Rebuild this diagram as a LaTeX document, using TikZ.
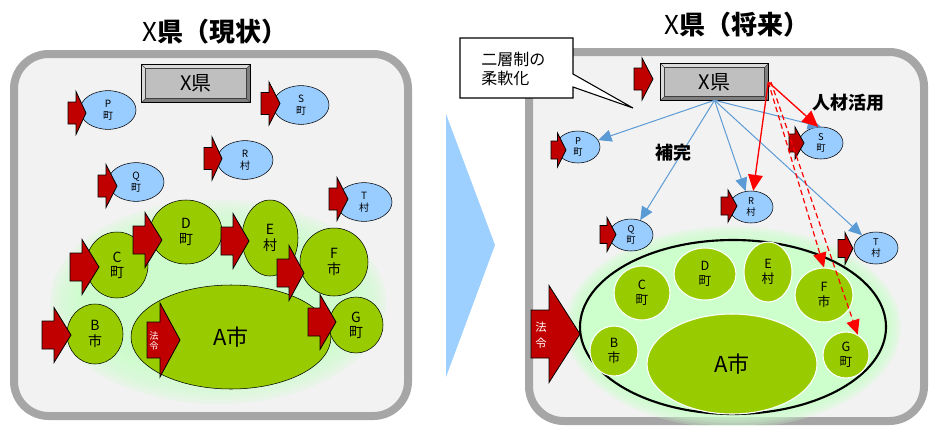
\documentclass[tikz,border=0pt]{standalone}
\usepackage{fontspec}
\setmainfont{Noto Sans CJK JP}
\usetikzlibrary{shapes.geometric,arrows.meta}

\definecolor{panelfill}{HTML}{F2F2F2}
\definecolor{panelline}{HTML}{A6A6A6}
\definecolor{townblue}{HTML}{99CCFF}
\definecolor{citygreen}{HTML}{99CC00}
\definecolor{glowgreen}{HTML}{CCFFCC}
\definecolor{lawred}{HTML}{C00000}
\definecolor{linkblue}{HTML}{5B9BD5}
\definecolor{boxgray}{HTML}{BFBFBF}
\definecolor{bevlight}{HTML}{DADADA}
\definecolor{bevdark}{HTML}{7F7F7F}
\definecolor{bigblue}{HTML}{9DCFFF}

\tikzset{
  panel/.style={draw=panelline, fill=panelfill, line width=6pt, rounded corners=26pt},
  title/.style={font=\fontsize{19.5}{22}\selectfont},
  prefbox/.style={rectangle, fill=boxgray, inner sep=0pt, font=\fontsize{15}{17}\selectfont},
  ltown/.style={ellipse, draw, fill=townblue, inner sep=0pt, align=center,
    minimum width=42pt, minimum height=29pt, font=\fontsize{7.5}{9}\selectfont},
  rtown/.style={ellipse, draw, fill=townblue, inner sep=0pt, align=center,
    minimum width=33pt, minimum height=24pt, font=\fontsize{7}{8.3}\selectfont},
  lcity/.style={ellipse, draw, fill=citygreen, inner sep=0pt, align=center,
    font=\fontsize{10.5}{11.5}\selectfont},
  rcity/.style={ellipse, draw=white, line width=0.8pt, fill=citygreen, inner sep=0pt,
    align=center, font=\fontsize{9.5}{11}\selectfont},
  bigcity/.style={font=\fontsize{16.5}{18}\selectfont},
  lawtext/.style={text=white, align=center, inner sep=0pt},
  support/.style={draw=linkblue, line width=0.75pt, -{Triangle[length=10pt,width=9pt]}},
  staff/.style={draw=red, line width=1pt, -{Triangle[length=12pt,width=11pt]}},
  staffdash/.style={draw=red, line width=0.9pt, dash pattern=on 4pt off 2.5pt,
    -{Triangle[length=11pt,width=10pt]}},
  keyword/.style={font=\bfseries\fontsize{13.5}{15}\selectfont}
}

% block arrow: left x, middle y, neck x, tip x, half body, half head
\newcommand{\lawarrow}[6]{%
  \draw[fill=lawred, line width=0.6pt] (#1,#2-#5) -- (#3,#2-#5) -- (#3,#2-#6) -- (#4,#2)
    -- (#3,#2+#6) -- (#3,#2+#5) -- (#1,#2+#5) -- cycle;}

% bevel round a prefecture box
\newcommand{\bevel}[1]{%
  \fill[bevlight] (#1.south west) -- (#1.north west) -- (#1.north east)
    -- ([shift={(-3pt,-3pt)}]#1.north east) -- ([shift={(3pt,-3pt)}]#1.north west)
    -- ([shift={(3pt,3pt)}]#1.south west) -- cycle;
  \fill[bevdark] (#1.south west) -- (#1.south east) -- (#1.north east)
    -- ([shift={(-3pt,-3pt)}]#1.north east) -- ([shift={(-3pt,3pt)}]#1.south east)
    -- ([shift={(3pt,3pt)}]#1.south west) -- cycle;
  \draw[line width=0.4pt, black!70] (#1.south west) -- ++(3pt,3pt) (#1.north west) -- ++(3pt,-3pt)
    (#1.north east) -- ++(-3pt,-3pt) (#1.south east) -- ++(-3pt,3pt);
  \draw[line width=0.5pt, black!75] ([shift={(3pt,3pt)}]#1.south west) rectangle ([shift={(-3pt,-3pt)}]#1.north east);
  \draw[line width=1pt] (#1.south west) rectangle (#1.north east);}

\begin{document}
\begin{tikzpicture}[x=0.75pt, y=-0.75pt]
\useasboundingbox (0,0) rectangle (948,425);

% panels
\draw[panel] (14,54) rectangle (408,416);
\draw[panel] (529,52) rectangle (924,421);
\fill[bigblue] (446,114) -- (495,245) -- (446,377) -- cycle;

\node[title] (lTitle) at (215,32) {X\textbf{県（現状）}};
\node[title] (rTitle) at (737,25) {X\textbf{県（将来）}};

% callout
\draw[fill=white, line width=0.8pt] (460,38) -- (573,38) -- (573,74) -- (633,108) -- (573,87)
  -- (573,98) -- (460,98) -- cycle;
\node[anchor=west, align=left, font=\fontsize{12}{14.5}\selectfont, inner sep=0pt] (note) at (481,69) {二層制の\\柔軟化};

% glow, present
\foreach \i [evaluate=\i as \gx using 0.75*(168-4*\i), evaluate=\i as \gy using 0.75*(102-4*\i)] in {0,...,9}
  {\fill[glowgreen, opacity=0.22] (218,302) ellipse [x radius=\gx pt, y radius=\gy pt];}

% present
\node[prefbox, minimum width=81pt, minimum height=27.75pt] (lX) at (196,83.5) {X県};
\bevel{lX}
\node[ltown] (lP) at (108,110) {P\\町};
\node[ltown] (lS) at (301,105) {S\\町};
\node[ltown] (lR) at (245,160) {R\\村};
\node[ltown] (lQ) at (136,182) {Q\\町};
\node[ltown] (lT) at (364,202) {T\\村};
\node[lcity, minimum width=54pt, minimum height=48pt] (lD) at (186,232) {D\\町};
\node[lcity, minimum width=46.5pt, minimum height=49.5pt] (lC) at (117,265) {C\\町};
\node[lcity, minimum width=42pt, minimum height=57pt] (lE) at (270,238) {E\\村};
\node[lcity, minimum width=51pt, minimum height=51pt] (lF) at (334,262) {F\\市};
\node[lcity, minimum width=42pt, minimum height=45pt] (lB) at (95,334) {B\\市};
\node[lcity, bigcity, minimum width=150pt, minimum height=78pt] (lA) at (231,337) {A市};
\node[lcity, minimum width=40.5pt, minimum height=42pt] (lG) at (356,325) {G\\町};

\lawarrow{68}{113}{76}{86}{11}{21.5}
\lawarrow{261}{103.5}{269}{280}{11}{21.5}
\lawarrow{204}{158.5}{212}{222}{11}{21.5}
\lawarrow{98}{186}{106}{117}{11}{21.5}
\lawarrow{329}{199}{337}{348}{11}{21.5}
\lawarrow{70}{267}{82}{99}{14}{27.5}
\lawarrow{133}{240}{145}{162}{14}{27.5}
\lawarrow{221}{241}{233}{249}{14}{27.5}
\lawarrow{277}{273}{289}{304}{14}{27.5}
\lawarrow{308}{322}{320}{336}{14}{27.5}
\lawarrow{42}{335}{54}{71}{14}{27.5}
\lawarrow{147}{340}{160}{180}{18}{37}
\node[lawtext, font=\fontsize{7}{8}\selectfont] (lLaw) at (154,341) {法\\令};

% glow, future
\foreach \i [evaluate=\i as \gx using 0.75*(168-2.5*\i), evaluate=\i as \gy using 0.75*(101-2.5*\i)] in {0,...,5}
  {\fill[glowgreen, opacity=0.25] (733,327) ellipse [x radius=\gx pt, y radius=\gy pt];}

% future
\node[ellipse, draw, line width=1.6pt, fill=glowgreen, minimum width=229.5pt, minimum height=130.5pt] (rRing) at (733,327) {};
\node[rcity, minimum width=42pt, minimum height=40.5pt] (rC) at (642,293) {C\\町};
\node[rcity, minimum width=46.5pt, minimum height=39pt] (rD) at (705,274) {D\\町};
\node[rcity, minimum width=36pt, minimum height=45pt] (rE) at (768,272) {E\\村};
\node[rcity, minimum width=43.5pt, minimum height=40.5pt] (rF) at (824,295) {F\\市};
\node[rcity, minimum width=36pt, minimum height=37.5pt] (rB) at (614,351) {B\\市};
\node[rcity, bigcity, minimum width=127.5pt, minimum height=75pt] (rA) at (732,364) {A市};
\node[rcity, minimum width=34.5pt, minimum height=34.5pt] (rG) at (846,355) {G\\町};

\node[prefbox, minimum width=80.25pt, minimum height=27pt] (rX) at (714.5,82) {X県};
\bevel{rX}
\node[rtown] (rP) at (578,147) {P\\町};
\node[rtown] (rS) at (821,143) {S\\町};
\node[rtown] (rR) at (751,207) {R\\村};
\node[rtown] (rQ) at (631,235) {Q\\町};
\node[rtown] (rT) at (876,248) {T\\村};

\lawarrow{634}{79}{642}{653}{11}{21}
\lawarrow{551}{150}{557.5}{566}{9}{17}
\lawarrow{789}{143}{795}{804}{9}{16}
\lawarrow{721}{206}{728}{737}{9}{16}
\lawarrow{600}{234.5}{607}{616}{9}{17}
\lawarrow{838}{248.5}{845}{853}{9}{16}
\lawarrow{531}{334}{549}{580}{24}{48.5}
\node[lawtext, font=\fontsize{8.5}{12}\selectfont] (rLaw) at (541,335) {法\\令};

\draw[support] (rX.south) -- (rP);
\draw[support] (rX.south) -- (rQ);
\draw[support] (rX.south) -- (rR);
\draw[support] (rX.south) -- (rS.north);
\draw[support] (rX.south) -- (rT);
\draw[staff] (rX.east) -- (rR);
\draw[staff] (rX.east) -- (rS.100);
\draw[staffdash] (rX.east) -- (rF.north);
\draw[staffdash] ([xshift=2pt]rX.east) -- (rG.60);

\node[keyword] (kStaff) at (848,103) {人材活用};
\node[keyword] (kSupport) at (673,153) {補完};
\end{tikzpicture}
\end{document}
